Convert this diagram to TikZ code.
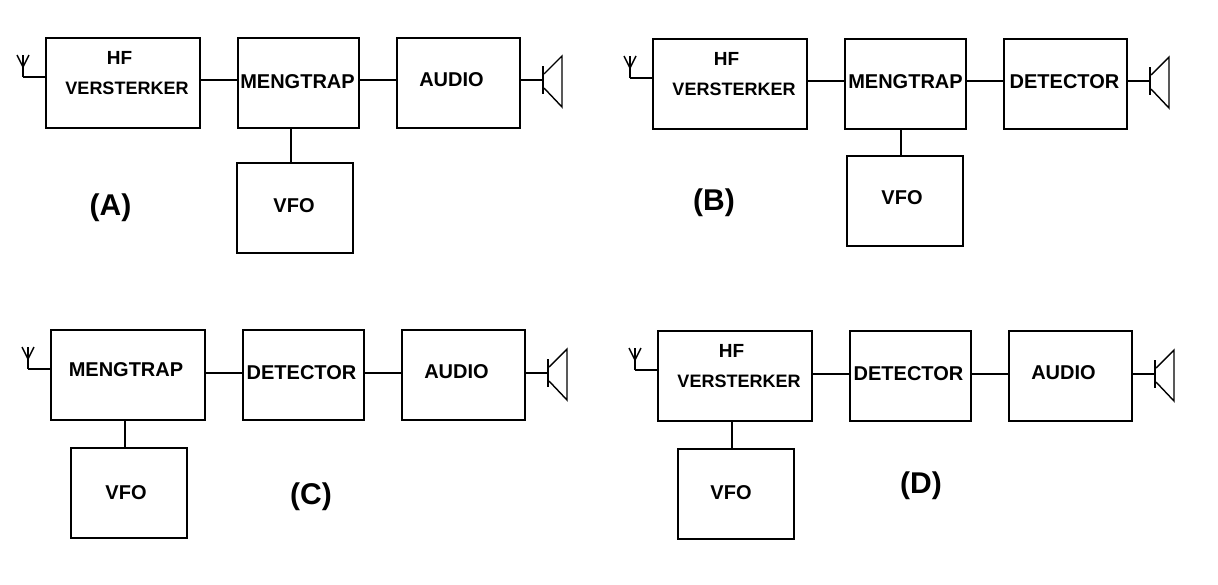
\documentclass[tikz,border=0pt]{standalone}
\usepackage{fontspec}
\setmainfont{Liberation Sans}
\tikzset{
  blk/.style={draw=black,line width=2pt,outer sep=0pt,inner sep=0pt,minimum height=90pt},
  wideblk/.style={blk,minimum width=154pt},
  midblk/.style={blk,minimum width=121pt},
  lastblk/.style={blk,minimum width=123pt},
  oscblk/.style={blk,minimum width=116pt},
  wire/.style={draw=black,line width=2pt},
  lbl/.style={anchor=base,inner sep=0pt,font=\bfseries\fontsize{20}{22}\selectfont},
  lblS/.style={anchor=base,inner sep=0pt,font=\bfseries\fontsize{18}{20}\selectfont},
  lblH/.style={anchor=base,inner sep=0pt,font=\bfseries\fontsize{19}{20}\selectfont},
  panelcap/.style={anchor=base,inner sep=0pt,font=\bfseries\fontsize{30}{32}\selectfont},
  antenna/.pic={
    \draw[line width=2pt] (0,0) -- (0,-22);
    \draw[line width=1.4pt] (-6,-22) -- (0,-10) -- (6,-22);
  },
  speaker/.pic={
    \draw[line width=2.6pt] (0,-14) -- (0,14);
    \draw[line width=1.4pt] (1,-6) -- (19,-24) -- (19,27) -- (1,8);
  }
}
\begin{document}
\begin{tikzpicture}[x=1pt,y=-1pt]
\useasboundingbox[fill=white] (0,0) rectangle (1218,584);
% Panel A
\node[wideblk] (a1) at (123,83) {};
\node[midblk] (a2) at (298.5,83) {};
\node[lastblk] (a3) at (458.5,83) {};
\node[oscblk] (a4) at (295,208) {};
\coordinate (ay) at (0,80);
\coordinate (aant) at (23,77);
\coordinate (aspk) at (543,80);
\coordinate (av) at (291,0);
\node[lblH] (a1t) at (119.5,64) {HF};
\node[lblS] (a1u) at (127,94) {VERSTERKER};
\node[lbl] (a2t) at (297.5,88) {MENGTRAP};
\node[lbl] (a3t) at (451.5,86) {AUDIO};
\node[lbl] (a4t) at (294,212.5) {VFO};
\node[panelcap] (acap) at (110.5,215) {(A)};
\pic at (aant) {antenna};
\pic at (aspk) {speaker};
\draw[wire] (aant) -- (a1.west |- aant);
\draw[wire] (a1.east |- ay) -- (a2.west |- ay);
\draw[wire] (a2.east |- ay) -- (a3.west |- ay);
\draw[wire] (a3.east |- ay) -- (aspk);
\draw[wire] (a2.south -| av) -- (a4.north -| av);
% Panel B
\node[wideblk] (b1) at (730,84) {};
\node[midblk] (b2) at (905.5,84) {};
\node[lastblk] (b3) at (1065.5,84) {};
\node[oscblk] (b4) at (905,201) {};
\coordinate (by) at (0,81);
\coordinate (bant) at (630,78);
\coordinate (bspk) at (1150,81);
\coordinate (bv) at (900.5,0);
\node[lblH] (b1t) at (726.5,65) {HF};
\node[lblS] (b1u) at (734,95) {VERSTERKER};
\node[lbl] (b2t) at (905.5,88) {MENGTRAP};
\node[lbl] (b3t) at (1064.5,88) {DETECTOR};
\node[lbl] (b4t) at (902,204.5) {VFO};
\node[panelcap] (bcap) at (714,210) {(B)};
\pic at (bant) {antenna};
\pic at (bspk) {speaker};
\draw[wire] (bant) -- (b1.west |- bant);
\draw[wire] (b1.east |- by) -- (b2.west |- by);
\draw[wire] (b2.east |- by) -- (b3.west |- by);
\draw[wire] (b3.east |- by) -- (bspk);
\draw[wire] (b2.south -| bv) -- (b4.north -| bv);
% Panel C
\node[wideblk] (c1) at (128,375) {};
\node[midblk] (c2) at (303.5,375) {};
\node[lastblk] (c3) at (463.5,375) {};
\node[oscblk] (c4) at (129,493) {};
\coordinate (cy) at (0,373);
\coordinate (cant) at (28,369);
\coordinate (cspk) at (548,373);
\coordinate (cv) at (125,0);
\node[lbl] (c1t) at (126,376) {MENGTRAP};
\node[lbl] (c2t) at (301.5,379) {DETECTOR};
\node[lbl] (c3t) at (456.5,378) {AUDIO};
\node[lbl] (c4t) at (126,499.5) {VFO};
\node[panelcap] (ccap) at (311,504) {(C)};
\pic at (cant) {antenna};
\pic at (cspk) {speaker};
\draw[wire] (cant) -- (c1.west |- cant);
\draw[wire] (c1.east |- cy) -- (c2.west |- cy);
\draw[wire] (c2.east |- cy) -- (c3.west |- cy);
\draw[wire] (c3.east |- cy) -- (cspk);
\draw[wire] (c1.south -| cv) -- (c4.north -| cv);
% Panel D
\node[wideblk] (d1) at (735,376) {};
\node[midblk] (d2) at (910.5,376) {};
\node[lastblk] (d3) at (1070.5,376) {};
\node[oscblk] (d4) at (736,494) {};
\coordinate (dy) at (0,374);
\coordinate (dant) at (635,370);
\coordinate (dspk) at (1155,374);
\coordinate (dv) at (732,0);
\node[lblH] (d1t) at (731.5,357) {HF};
\node[lblS] (d1u) at (739,387) {VERSTERKER};
\node[lbl] (d2t) at (908.5,380) {DETECTOR};
\node[lbl] (d3t) at (1063.5,379) {AUDIO};
\node[lbl] (d4t) at (731,499.5) {VFO};
\node[panelcap] (dcap) at (921,493) {(D)};
\pic at (dant) {antenna};
\pic at (dspk) {speaker};
\draw[wire] (dant) -- (d1.west |- dant);
\draw[wire] (d1.east |- dy) -- (d2.west |- dy);
\draw[wire] (d2.east |- dy) -- (d3.west |- dy);
\draw[wire] (d3.east |- dy) -- (dspk);
\draw[wire] (d1.south -| dv) -- (d4.north -| dv);
\end{tikzpicture}
\end{document}
